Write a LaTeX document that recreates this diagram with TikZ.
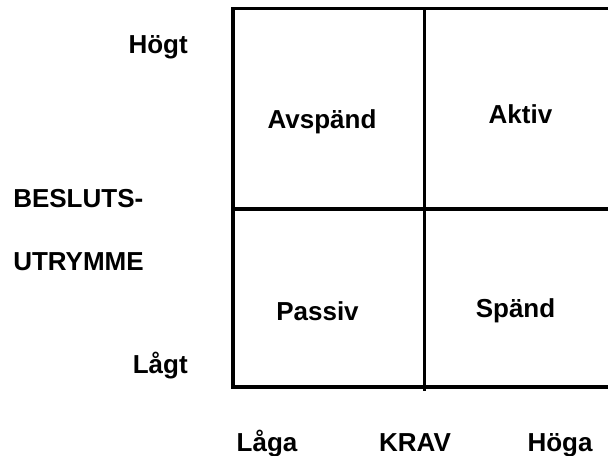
\documentclass[tikz,border=0pt]{standalone}
\usepackage{fontspec}
\setmainfont{Liberation Sans}
\usepackage{tikz}
\usetikzlibrary{positioning}

\tikzset{
  lbl/.style={font=\bfseries\fontsize{19.5}{23}\selectfont, inner sep=0pt},
  grid line/.style={line width=2.6pt}
}

\begin{document}
\begin{tikzpicture}[x=0.75pt,y=-0.75pt]
  \useasboundingbox (0,0) rectangle (608,455);
  % the grid (open on the right)
  \coordinate (tl) at (233,8.5);
  \coordinate (bl) at (233,387);
  \draw[grid line] (608,8.5) -- (tl) -- (bl) -- (608,387);
  \draw[grid line] (233,209) -- (608,209);
  \draw[grid line] (424.5,8.5) -- (424.5,391);
  % cells
  \node[lbl,anchor=base] (avspand) at (322,128) {Avspänd};
  \node[lbl,anchor=base] (aktiv) at (520.5,123) {Aktiv};
  \node[lbl,anchor=base] (passiv) at (317.5,320) {Passiv};
  \node[lbl,anchor=base] (spand) at (515.5,317) {Spänd};
  % vertical axis
  \node[lbl,anchor=base east] (hogt) at (188,53) {Högt};
  \node[lbl,anchor=base west] (beslut) at (13,207) {BESLUTS-};
  \node[lbl,anchor=base west] (utrymme) at (13,270) {UTRYMME};
  \node[lbl,anchor=base east] (lagt) at (188,373) {Lågt};
  % horizontal axis
  \node[lbl,anchor=base] (laga) at (267,451) {Låga};
  \node[lbl,anchor=base] (krav) at (415,451) {KRAV};
  \node[lbl,anchor=base] (hoga) at (560,451) {Höga};
\end{tikzpicture}
\end{document}
